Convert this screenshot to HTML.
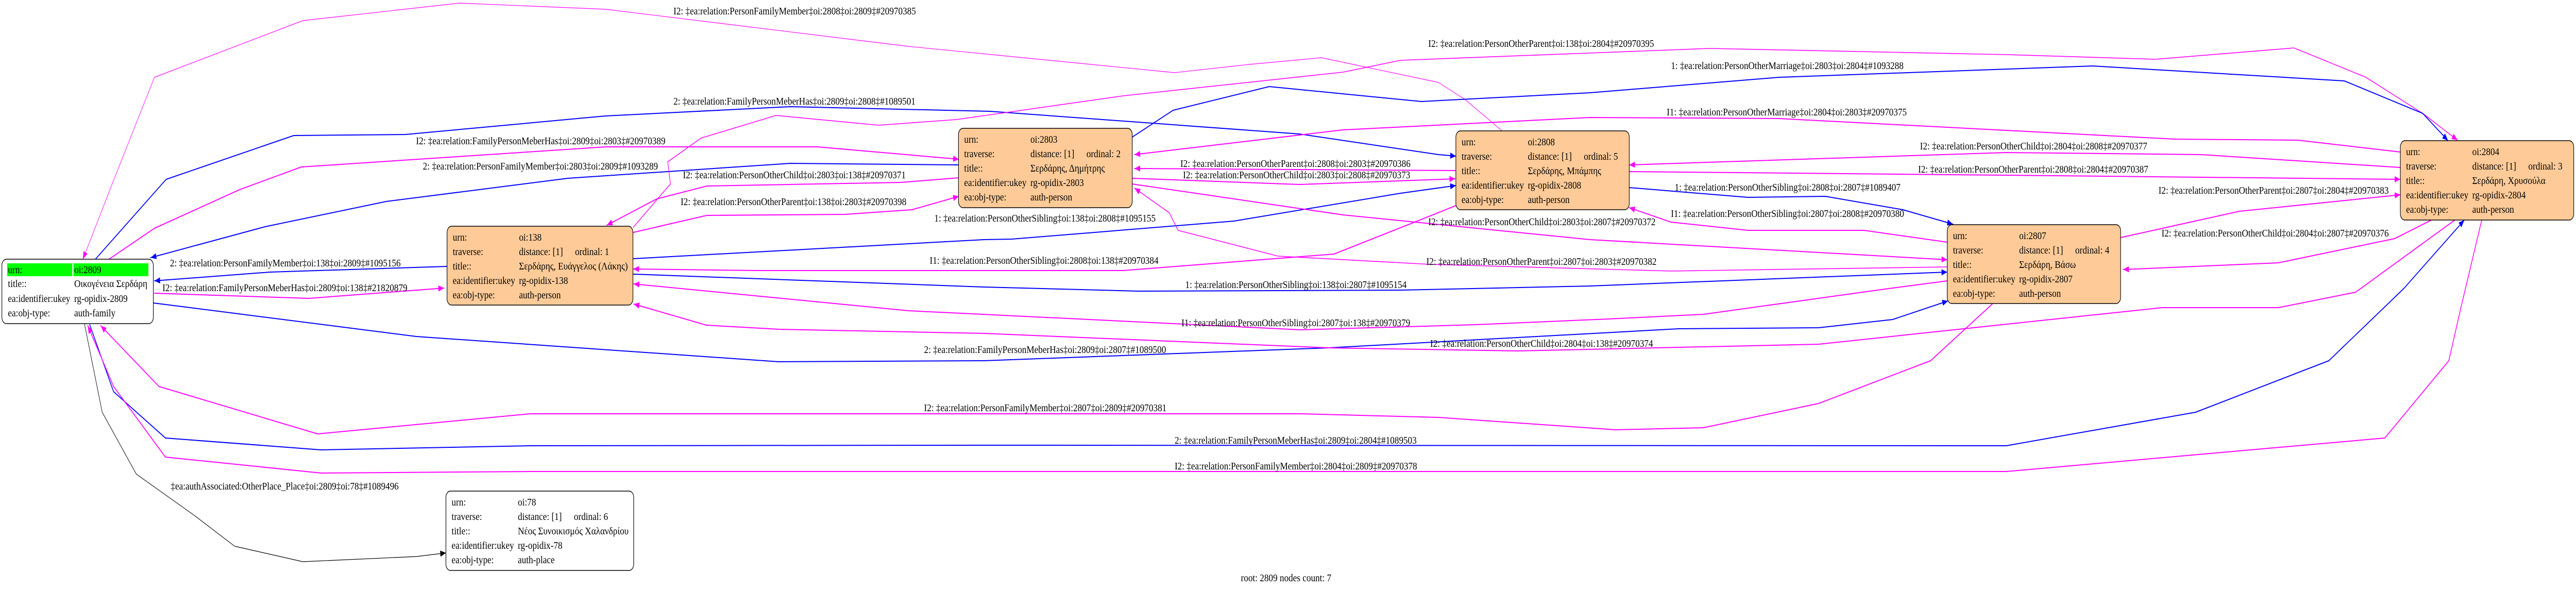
<!DOCTYPE html>
<html><head><meta charset="utf-8">
<style>
html,body{margin:0;padding:0;background:#fff;width:100%;height:100%;overflow:hidden;}
svg{display:block;position:absolute;left:0;top:0;width:100vw;height:100vh;}
text{font-family:"Liberation Serif","Noto Serif CJK SC",serif;font-size:20px;fill:#000;}
</style></head><body>
<svg viewBox="0 0 6805 1143" preserveAspectRatio="none">
<defs>
<marker id="am" markerUnits="userSpaceOnUse" markerWidth="16" markerHeight="12" refX="15" refY="6" orient="auto"><path d="M0,0 L15,6 L0,12 z" fill="#ff00ff"/></marker>
<marker id="ab" markerUnits="userSpaceOnUse" markerWidth="16" markerHeight="12" refX="15" refY="6" orient="auto"><path d="M0,0 L15,6 L0,12 z" fill="#0000ff"/></marker>
<marker id="ak" markerUnits="userSpaceOnUse" markerWidth="16" markerHeight="12" refX="15" refY="6" orient="auto"><path d="M0,0 L15,6 L0,12 z" fill="#000"/></marker>
</defs>
<rect x="0" y="0" width="6805" height="1143" fill="#fff"/>
<g fill="none" stroke-linejoin="round" stroke-linecap="round">
<polyline stroke="#ff00ff" stroke-width="1.2" marker-end="url(#am)" points="3968,254 3870,193 3800,160 3491,112 3300,125 3103,141 2400,90 1600,18 1214,6 800,40 408,150 300,350 219,503"/>
<polyline stroke="#0000ff" stroke-width="2" marker-end="url(#ab)" points="252,503 439,348 776,263 1071,261 1600,225 2087,207 2615,216 3433,260 3800,300 3846,303"/>
<polyline stroke="#ff00ff" stroke-width="2" marker-end="url(#am)" points="288,503 408,443 633,368 796,324 1600,285 2160,285 2533,309"/>
<polyline stroke="#0000ff" stroke-width="2" marker-end="url(#ab)" points="2533,320 2087,317 1500,346 1020,391 700,440 398,500"/>
<polyline stroke="#0000ff" stroke-width="2" marker-end="url(#ab)" points="1181,517 714,528 408,545"/>
<polyline stroke="#ff00ff" stroke-width="2" marker-end="url(#am)" points="408,569 816,579 1173,559"/>
<polyline stroke="#0000ff" stroke-width="2" marker-end="url(#ab)" points="406,588 1100,653 2057,702 2600,700 3510,675 4434,638 4804,636 5000,620 5146,584"/>
<polyline stroke="#0000ff" stroke-width="2" marker-end="url(#ab)" points="237,630 300,760 437,850 848,873 1400,865 2600,864 5300,865 5800,800 6152,700 6350,560 6510,427"/>
<polyline stroke="#ff00ff" stroke-width="2" marker-end="url(#am)" points="6556,427 6500,600 6469,700 6300,850 5300,915 2600,915 1400,915 848,918 437,887 300,750 232,632"/>
<polyline stroke="#ff00ff" stroke-width="2" marker-end="url(#am)" points="5263,590 5100,700 4804,783 4500,830 4268,834 3800,810 3436,803 1400,803 839,842 420,750 266,632"/>
<polyline stroke="#000" stroke-width="1.2" marker-end="url(#ak)" points="223,628 270,800 360,920 513,1000 620,1060 800,1090 1100,1080 1178,1073"/>
<polyline stroke="#0000ff" stroke-width="2" marker-end="url(#ab)" points="1672,502 2600,465 2673,464 3260,429 3700,375 3846,360"/>
<polyline stroke="#ff00ff" stroke-width="2" marker-end="url(#am)" points="3846,399 3744,429 3524,493 2967,525 2000,525 1673,522"/>
<polyline stroke="#0000ff" stroke-width="2" marker-end="url(#ab)" points="1672,532 2600,557 3008,565 3700,563 4200,555 5144,528"/>
<polyline stroke="#ff00ff" stroke-width="2" marker-end="url(#am)" points="5144,545 4989,560 4500,610 4249,619 3900,630 3436,640 2400,603 1674,551"/>
<polyline stroke="#ff00ff" stroke-width="2" marker-end="url(#am)" points="6485,427 6223,567 6019,597 5712,597 5200,637 4804,668 4009,681 3510,675 2600,647 2057,639 1866,631 1674,590"/>
<polyline stroke="#ff00ff" stroke-width="2" marker-end="url(#am)" points="2533,345 2380,354 1867,361 1735,386 1603,437"/>
<polyline stroke="#ff00ff" stroke-width="2" marker-end="url(#am)" points="1673,451 1867,418 2233,416 2409,407 2533,381"/>
<polyline stroke="#ff00ff" stroke-width="1.6" marker-end="url(#am)" points="1673,441 1771,357 1764,314 1852,268 2050,224 2321,243 2527,232 2967,186 3548,140 3700,117 4516,94 5300,106 5695,115 6060,93 6250,150 6400,220 6492,272"/>
<polyline stroke="#0000ff" stroke-width="2" marker-end="url(#ab)" points="2989,267 3099,214 3353,168 3755,197 4200,180 4700,150 5529,128 6193,157 6400,220 6467,273"/>
<polyline stroke="#ff00ff" stroke-width="2" marker-end="url(#am)" points="6341,295 6070,272 5745,270 4698,230 4200,228 3548,252 2997,300"/>
<polyline stroke="#ff00ff" stroke-width="2" marker-end="url(#am)" points="6341,325 5814,300 5300,296 4304,320"/>
<polyline stroke="#ff00ff" stroke-width="2" marker-end="url(#am)" points="4304,333 5300,340 6341,348"/>
<polyline stroke="#ff00ff" stroke-width="2" marker-end="url(#am)" points="5602,461 5916,410 6341,378"/>
<polyline stroke="#ff00ff" stroke-width="2" marker-end="url(#am)" points="6423,427 6326,463 6019,510 5609,523"/>
<polyline stroke="#0000ff" stroke-width="2" marker-end="url(#ab)" points="4304,364 4618,383 4822,381 5027,407 5159,435"/>
<polyline stroke="#ff00ff" stroke-width="2" marker-end="url(#am)" points="5144,470 4924,447 4618,447 4414,431 4304,403"/>
<polyline stroke="#ff00ff" stroke-width="2" marker-end="url(#am)" points="2991,357 3548,417 4200,465 5144,504"/>
<polyline stroke="#ff00ff" stroke-width="1.6" marker-end="url(#am)" points="5144,518 4414,526 3778,513 3376,497 3112,447 3089,413 2997,365"/>
<polyline stroke="#ff00ff" stroke-width="2" marker-end="url(#am)" points="3846,331 2997,327"/>
<polyline stroke="#ff00ff" stroke-width="2" marker-end="url(#am)" points="2991,346 3433,358 3844,347"/>
</g>
<g stroke="#000" stroke-width="1.5">
<rect x="5" y="503" width="400" height="125" rx="12" fill="#fff"/>
<rect x="1181" y="439" width="491" height="153" rx="12" fill="#fecb98"/>
<rect x="1178" y="953" width="496" height="154" rx="12" fill="#fff"/>
<rect x="2532" y="249" width="459" height="154" rx="12" fill="#fecb98"/>
<rect x="3846" y="254" width="458" height="153" rx="12" fill="#fecb98"/>
<rect x="5144" y="436" width="458" height="153" rx="12" fill="#fecb98"/>
<rect x="6341" y="273" width="458" height="154" rx="12" fill="#fecb98"/>
</g>
<rect x="19" y="511" width="172" height="25" fill="#00ff00"/>
<rect x="194" y="511" width="198" height="25" fill="#00ff00"/>

<text transform="translate(21,530) scale(1.17,1)">urn:</text><text transform="translate(196,530) scale(1.17,1)">oi:2809</text>
<text transform="translate(21,557) scale(1.17,1)">title::</text><text transform="translate(196,557) scale(1.17,1)">Οικογένεια Σερδάρη</text>
<text transform="translate(21,586) scale(1.17,1)">ea:identifier:ukey</text><text transform="translate(196,586) scale(1.17,1)">rg-opidix-2809</text>
<text transform="translate(21,614) scale(1.17,1)">ea:obj-type:</text><text transform="translate(196,614) scale(1.17,1)">auth-family</text>

<text transform="translate(1196,467) scale(1.17,1)">urn:</text><text transform="translate(1371,467) scale(1.17,1)">oi:138</text>
<text transform="translate(1196,495) scale(1.17,1)">traverse:</text><text transform="translate(1371,495) scale(1.17,1)">distance: [1]</text><text transform="translate(1519,495) scale(1.17,1)">ordinal: 1</text>
<text transform="translate(1196,523) scale(1.17,1)">title::</text><text transform="translate(1371,523) scale(1.17,1)">Σερδάρης, Ευάγγελος (Λάκης)</text>
<text transform="translate(1196,551) scale(1.17,1)">ea:identifier:ukey</text><text transform="translate(1371,551) scale(1.17,1)">rg-opidix-138</text>
<text transform="translate(1196,579) scale(1.17,1)">ea:obj-type:</text><text transform="translate(1371,579) scale(1.17,1)">auth-person</text>

<text transform="translate(1193,981) scale(1.17,1)">urn:</text><text transform="translate(1368,981) scale(1.17,1)">oi:78</text>
<text transform="translate(1193,1009) scale(1.17,1)">traverse:</text><text transform="translate(1368,1009) scale(1.17,1)">distance: [1]</text><text transform="translate(1516,1009) scale(1.17,1)">ordinal: 6</text>
<text transform="translate(1193,1037) scale(1.17,1)">title::</text><text transform="translate(1368,1037) scale(1.17,1)">Νέος Συνοικισμός Χαλανδρίου</text>
<text transform="translate(1193,1065) scale(1.17,1)">ea:identifier:ukey</text><text transform="translate(1368,1065) scale(1.17,1)">rg-opidix-78</text>
<text transform="translate(1193,1093) scale(1.17,1)">ea:obj-type:</text><text transform="translate(1368,1093) scale(1.17,1)">auth-place</text>

<text transform="translate(2547,277) scale(1.17,1)">urn:</text><text transform="translate(2722,277) scale(1.17,1)">oi:2803</text>
<text transform="translate(2547,305) scale(1.17,1)">traverse:</text><text transform="translate(2722,305) scale(1.17,1)">distance: [1]</text><text transform="translate(2870,305) scale(1.17,1)">ordinal: 2</text>
<text transform="translate(2547,333) scale(1.17,1)">title::</text><text transform="translate(2722,333) scale(1.17,1)">Σερδάρης, Δημήτρης</text>
<text transform="translate(2547,361) scale(1.17,1)">ea:identifier:ukey</text><text transform="translate(2722,361) scale(1.17,1)">rg-opidix-2803</text>
<text transform="translate(2547,389) scale(1.17,1)">ea:obj-type:</text><text transform="translate(2722,389) scale(1.17,1)">auth-person</text>

<text transform="translate(3861,282) scale(1.17,1)">urn:</text><text transform="translate(4036,282) scale(1.17,1)">oi:2808</text>
<text transform="translate(3861,310) scale(1.17,1)">traverse:</text><text transform="translate(4036,310) scale(1.17,1)">distance: [1]</text><text transform="translate(4184,310) scale(1.17,1)">ordinal: 5</text>
<text transform="translate(3861,338) scale(1.17,1)">title::</text><text transform="translate(4036,338) scale(1.17,1)">Σερδάρης, Μπάμπης</text>
<text transform="translate(3861,366) scale(1.17,1)">ea:identifier:ukey</text><text transform="translate(4036,366) scale(1.17,1)">rg-opidix-2808</text>
<text transform="translate(3861,394) scale(1.17,1)">ea:obj-type:</text><text transform="translate(4036,394) scale(1.17,1)">auth-person</text>

<text transform="translate(5159,464) scale(1.17,1)">urn:</text><text transform="translate(5334,464) scale(1.17,1)">oi:2807</text>
<text transform="translate(5159,492) scale(1.17,1)">traverse:</text><text transform="translate(5334,492) scale(1.17,1)">distance: [1]</text><text transform="translate(5482,492) scale(1.17,1)">ordinal: 4</text>
<text transform="translate(5159,520) scale(1.17,1)">title::</text><text transform="translate(5334,520) scale(1.17,1)">Σερδάρη, Βάσω</text>
<text transform="translate(5159,548) scale(1.17,1)">ea:identifier:ukey</text><text transform="translate(5334,548) scale(1.17,1)">rg-opidix-2807</text>
<text transform="translate(5159,576) scale(1.17,1)">ea:obj-type:</text><text transform="translate(5334,576) scale(1.17,1)">auth-person</text>

<text transform="translate(6356,301) scale(1.17,1)">urn:</text><text transform="translate(6531,301) scale(1.17,1)">oi:2804</text>
<text transform="translate(6356,329) scale(1.17,1)">traverse:</text><text transform="translate(6531,329) scale(1.17,1)">distance: [1]</text><text transform="translate(6679,329) scale(1.17,1)">ordinal: 3</text>
<text transform="translate(6356,357) scale(1.17,1)">title::</text><text transform="translate(6531,357) scale(1.17,1)">Σερδάρη, Χρυσούλα</text>
<text transform="translate(6356,385) scale(1.17,1)">ea:identifier:ukey</text><text transform="translate(6531,385) scale(1.17,1)">rg-opidix-2804</text>
<text transform="translate(6356,413) scale(1.17,1)">ea:obj-type:</text><text transform="translate(6531,413) scale(1.17,1)">auth-person</text>

<text transform="translate(1779,28) scale(1.17,1)">I2: ‡ea:relation:PersonFamilyMember‡oi:2808‡oi:2809‡#20970385</text>
<text transform="translate(1779,203) scale(1.17,1)">2: ‡ea:relation:FamilyPersonMeberHas‡oi:2809‡oi:2808‡#1089501</text>
<text transform="translate(1099,280) scale(1.17,1)">I2: ‡ea:relation:FamilyPersonMeberHas‡oi:2809‡oi:2803‡#20970389</text>
<text transform="translate(1117,329) scale(1.17,1)">2: ‡ea:relation:PersonFamilyMember‡oi:2803‡oi:2809‡#1093289</text>
<text transform="translate(1804,346) scale(1.17,1)">I2: ‡ea:relation:PersonOtherChild‡oi:2803‡oi:138‡#20970371</text>
<text transform="translate(1798,398) scale(1.17,1)">I2: ‡ea:relation:PersonOtherParent‡oi:138‡oi:2803‡#20970398</text>
<text transform="translate(2468,430) scale(1.17,1)">1: ‡ea:relation:PersonOtherSibling‡oi:138‡oi:2808‡#1095155</text>
<text transform="translate(2456,512) scale(1.17,1)">I1: ‡ea:relation:PersonOtherSibling‡oi:2808‡oi:138‡#20970384</text>
<text transform="translate(3131,559) scale(1.17,1)">1: ‡ea:relation:PersonOtherSibling‡oi:138‡oi:2807‡#1095154</text>
<text transform="translate(3118,324) scale(1.17,1)">I2: ‡ea:relation:PersonOtherParent‡oi:2808‡oi:2803‡#20970386</text>
<text transform="translate(3125,346) scale(1.17,1)">I2: ‡ea:relation:PersonOtherChild‡oi:2803‡oi:2808‡#20970373</text>
<text transform="translate(449,517) scale(1.17,1)">2: ‡ea:relation:PersonFamilyMember‡oi:138‡oi:2809‡#1095156</text>
<text transform="translate(429,565) scale(1.17,1)">I2: ‡ea:relation:FamilyPersonMeberHas‡oi:2809‡oi:138‡#21820879</text>
<text transform="translate(451,950) scale(1.17,1)">‡ea:authAssociated:OtherPlace_Place‡oi:2809‡oi:78‡#1089496</text>
<text transform="translate(3773,91) scale(1.17,1)">I2: ‡ea:relation:PersonOtherParent‡oi:138‡oi:2804‡#20970395</text>
<text transform="translate(4414,134) scale(1.17,1)">1: ‡ea:relation:PersonOtherMarriage‡oi:2803‡oi:2804‡#1093288</text>
<text transform="translate(4403,224) scale(1.17,1)">I1: ‡ea:relation:PersonOtherMarriage‡oi:2804‡oi:2803‡#20970375</text>
<text transform="translate(5072,290) scale(1.17,1)">I2: ‡ea:relation:PersonOtherChild‡oi:2804‡oi:2808‡#20970377</text>
<text transform="translate(5067,335) scale(1.17,1)">I2: ‡ea:relation:PersonOtherParent‡oi:2808‡oi:2804‡#20970387</text>
<text transform="translate(4424,370) scale(1.17,1)">1: ‡ea:relation:PersonOtherSibling‡oi:2808‡oi:2807‡#1089407</text>
<text transform="translate(4414,421) scale(1.17,1)">I1: ‡ea:relation:PersonOtherSibling‡oi:2807‡oi:2808‡#20970380</text>
<text transform="translate(3773,437) scale(1.17,1)">I2: ‡ea:relation:PersonOtherChild‡oi:2803‡oi:2807‡#20970372</text>
<text transform="translate(3768,514) scale(1.17,1)">I2: ‡ea:relation:PersonOtherParent‡oi:2807‡oi:2803‡#20970382</text>
<text transform="translate(5702,376) scale(1.17,1)">I2: ‡ea:relation:PersonOtherParent‡oi:2807‡oi:2804‡#20970383</text>
<text transform="translate(5710,459) scale(1.17,1)">I2: ‡ea:relation:PersonOtherChild‡oi:2804‡oi:2807‡#20970376</text>
<text transform="translate(3121,633) scale(1.17,1)">I1: ‡ea:relation:PersonOtherSibling‡oi:2807‡oi:138‡#20970379</text>
<text transform="translate(3778,673) scale(1.17,1)">I2: ‡ea:relation:PersonOtherChild‡oi:2804‡oi:138‡#20970374</text>
<text transform="translate(2441,685) scale(1.17,1)">2: ‡ea:relation:FamilyPersonMeberHas‡oi:2809‡oi:2807‡#1089500</text>
<text transform="translate(2441,798) scale(1.17,1)">I2: ‡ea:relation:PersonFamilyMember‡oi:2807‡oi:2809‡#20970381</text>
<text transform="translate(3103,861) scale(1.17,1)">2: ‡ea:relation:FamilyPersonMeberHas‡oi:2809‡oi:2804‡#1089503</text>
<text transform="translate(3103,911) scale(1.17,1)">I2: ‡ea:relation:PersonFamilyMember‡oi:2804‡oi:2809‡#20970378</text>
<text transform="translate(3278,1128) scale(1.17,1)">root: 2809 nodes count: 7</text>
</svg>
</body></html>
